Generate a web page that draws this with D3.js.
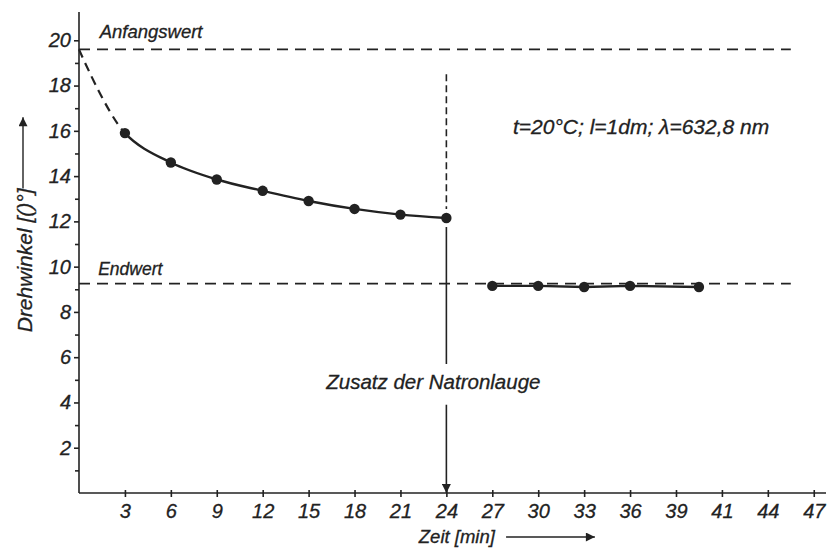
<!DOCTYPE html>
<meta charset='utf-8'>
<style>
    html, body {
        margin: 0;
        background: white;
    }

    svg text {
        font-family: 'Liberation Sans', Arial, sans-serif;
        font-style: italic;
        fill: #222;
        stroke: #222;
        stroke-width: 0.3px;
    }

    .axis path, .axis line {
        stroke: #222;
        stroke-width: 1.6px;
    }

    .axis text {
        font-size: 20px;
    }
</style>
<title>Drehwinkel</title>
<body>

<script src='https://d3js.org/d3.v7.min.js'></script>
<script>

	// Messwerte vor dem Zusatz der Natronlauge (inkl. extrapoliertem Anfangswert bei t=0)
	let zeitVor = [0, 3, 6, 9, 12, 15, 18, 21, 24];
	let winkelVor = [19.6, 15.9, 14.6, 13.85, 13.35, 12.9, 12.55, 12.3, 12.15];

	// Messwerte nach dem Zusatz
	let zeitNach = [27, 30, 33, 36, 40.5];
	let winkelNach = [9.15, 9.15, 9.1, 9.15, 9.1];

	let anfangswert = 19.6;
	let endwert = 9.25;
	let zusatzZeit = 24;

	let xTicks = [3, 6, 9, 12, 15, 18, 21, 24, 27, 30, 33, 36, 39, 42, 45, 48];
	let xTickLabels = ['3', '6', '9', '12', '15', '18', '21', '24', '27', '30', '33', '36', '39', '41', '44', '47'];
	let yTicks = [2, 4, 6, 8, 10, 12, 14, 16, 18, 20];
	let yMinorTicks = [1, 3, 5, 7, 9, 11, 13, 15, 17, 19];

	let margin = {top: 12, right: 1, bottom: 57, left: 79},
		width = 827 - margin.left - margin.right,
		height = 550 - margin.top - margin.bottom;

	let x = d3.scaleLinear()
		.domain([0, 48.8])
		.range([0, width]);

	let y = d3.scaleLinear()
		.domain([0, 21.25])
		.range([height, 0]);

	let svg = d3.select('body').append('svg')
		.attr('width', 827)
		.attr('height', 550)
		.append('g')
		.attr('transform', 'translate(' + margin.left + ',' + margin.top + ')');

	let defs = svg.append('defs');

	defs.append('marker')
		.attr('id', 'pfeil')
		.attr('viewBox', '0 0 10 10')
		.attr('refX', 10)
		.attr('refY', 5)
		.attr('markerUnits', 'userSpaceOnUse')
		.attr('markerWidth', 16)
		.attr('markerHeight', 9)
		.attr('orient', 'auto')
		.append('path')
		.attr('d', 'M0,0 L10,5 L0,10 Z')
		.attr('fill', '#222');

	defs.append('clipPath').attr('id', 'clipDash')
		.append('rect')
		.attr('x', x(0) - 5).attr('y', -20)
		.attr('width', x(3) - x(0) + 5).attr('height', height + 40);

	defs.append('clipPath').attr('id', 'clipSolid')
		.append('rect')
		.attr('x', x(3)).attr('y', -20)
		.attr('width', x(24) - x(3)).attr('height', height + 40);

	// Achsen
	svg.append('g')
		.attr('class', 'axis')
		.attr('transform', 'translate(0,' + height + ')')
		.call(d3.axisBottom(x)
			.tickValues(xTicks)
			.tickSize(4)
			.tickPadding(7)
			.tickFormat(function (d, i) {
				return xTickLabels[i];
			}))
		.call(function (g) {
			g.select('.domain').attr('d', 'M0,0H' + width);
			g.selectAll('.tick line').attr('y1', -3);
		});

	svg.append('g')
		.attr('class', 'axis')
		.call(d3.axisLeft(y)
			.tickValues(yTicks)
			.tickSize(5)
			.tickPadding(3))
		.call(function (g) {
			g.select('.domain').attr('d', 'M0,0V' + height);
		});

	svg.append('g')
		.attr('class', 'axis')
		.call(d3.axisLeft(y)
			.tickValues(yMinorTicks)
			.tickSize(4)
			.tickFormat(''))
		.call(function (g) {
			g.select('.domain').remove();
		});

	// Anfangswert und Endwert
	svg.append('line')
		.attr('x1', x(0)).attr('x2', x(46.5))
		.attr('y1', y(anfangswert)).attr('y2', y(anfangswert))
		.attr('stroke', '#222')
		.attr('stroke-width', 1.8)
		.attr('stroke-dasharray', '11,7');

	svg.append('line')
		.attr('x1', x(0)).attr('x2', x(46.5))
		.attr('y1', y(endwert)).attr('y2', y(endwert))
		.attr('stroke', '#222')
		.attr('stroke-width', 1.8)
		.attr('stroke-dasharray', '11,7');

	svg.append('text')
		.attr('x', x(1.35))
		.attr('y', y(anfangswert) - 11)
		.style('font-size', '18.5px')
		.text('Anfangswert');

	svg.append('text')
		.attr('x', x(1.25))
		.attr('y', y(endwert) - 9)
		.style('font-size', '17.5px')
		.text('Endwert');

	// Kurve vor dem Zusatz
	let punkteVor = zeitVor.map(function (d, i) {
		return [d, winkelVor[i]];
	});
	let punkteNach = zeitNach.map(function (d, i) {
		return [d, winkelNach[i]];
	});

	let linie = d3.line()
		.x(function (d) { return x(d[0]); })
		.y(function (d) { return y(d[1]); })
		.curve(d3.curveCatmullRom.alpha(0.5));

	svg.append('path')
		.datum(punkteVor)
		.attr('clip-path', 'url(#clipDash)')
		.attr('d', linie)
		.attr('fill', 'none')
		.attr('stroke', '#222')
		.attr('stroke-width', 2.2)
		.attr('stroke-dasharray', '9,6');

	svg.append('path')
		.datum(punkteVor)
		.attr('clip-path', 'url(#clipSolid)')
		.attr('d', linie)
		.attr('fill', 'none')
		.attr('stroke', '#222')
		.attr('stroke-width', 2.4);

	svg.append('path')
		.datum(punkteNach)
		.attr('d', d3.line()
			.x(function (d) { return x(d[0]); })
			.y(function (d) { return y(d[1]); }))
		.attr('fill', 'none')
		.attr('stroke', '#222')
		.attr('stroke-width', 2.4);

	svg.selectAll('.punkt')
		.data(punkteVor.slice(1).concat(punkteNach))
		.enter().append('circle')
		.attr('class', 'punkt')
		.attr('cx', function (d) { return x(d[0]); })
		.attr('cy', function (d) { return y(d[1]); })
		.attr('r', 5.2)
		.attr('fill', '#222');

	// Zusatz der Natronlauge
	svg.append('line')
		.attr('x1', x(zusatzZeit)).attr('x2', x(zusatzZeit))
		.attr('y1', y(18.5)).attr('y2', y(12.55))
		.attr('stroke', '#222')
		.attr('stroke-width', 1.6)
		.attr('stroke-dasharray', '7,4');

	svg.append('line')
		.attr('x1', x(zusatzZeit)).attr('x2', x(zusatzZeit))
		.attr('y1', y(11.75)).attr('y2', y(5.7))
		.attr('stroke', '#222')
		.attr('stroke-width', 1.6);

	svg.append('line')
		.attr('x1', x(zusatzZeit)).attr('x2', x(zusatzZeit))
		.attr('y1', y(3.9)).attr('y2', y(0))
		.attr('stroke', '#222')
		.attr('stroke-width', 1.6)
		.attr('marker-end', 'url(#pfeil)');

	svg.append('text')
		.attr('x', x(23.15))
		.attr('y', y(4.6))
		.attr('text-anchor', 'middle')
		.style('font-size', '20.5px')
		.text('Zusatz der Natronlauge');

	svg.append('text')
		.attr('x', x(28.35))
		.attr('y', y(15.85))
		.style('font-size', '21px')
		.text('t=20°C; l=1dm; λ=632,8 nm');

	// Achsenbeschriftungen
	svg.append('text')
		.attr('x', x(22.2))
		.attr('y', height + 50)
		.style('font-size', '18.5px')
		.text('Zeit [min]');

	svg.append('line')
		.attr('x1', x(27.9)).attr('x2', x(33.7))
		.attr('y1', height + 44).attr('y2', height + 44)
		.attr('stroke', '#222')
		.attr('stroke-width', 1.4)
		.attr('marker-end', 'url(#pfeil)');

	svg.append('text')
		.attr('transform', 'translate(' + (-47) + ',' + y(7.1) + ') rotate(-90)')
		.style('font-size', '21px')
		.text('Drehwinkel [()°]');

	svg.append('line')
		.attr('x1', -56).attr('x2', -56)
		.attr('y1', y(13.45)).attr('y2', y(16.6))
		.attr('stroke', '#222')
		.attr('stroke-width', 1.4)
		.attr('marker-end', 'url(#pfeil)');

</script>
</body>
